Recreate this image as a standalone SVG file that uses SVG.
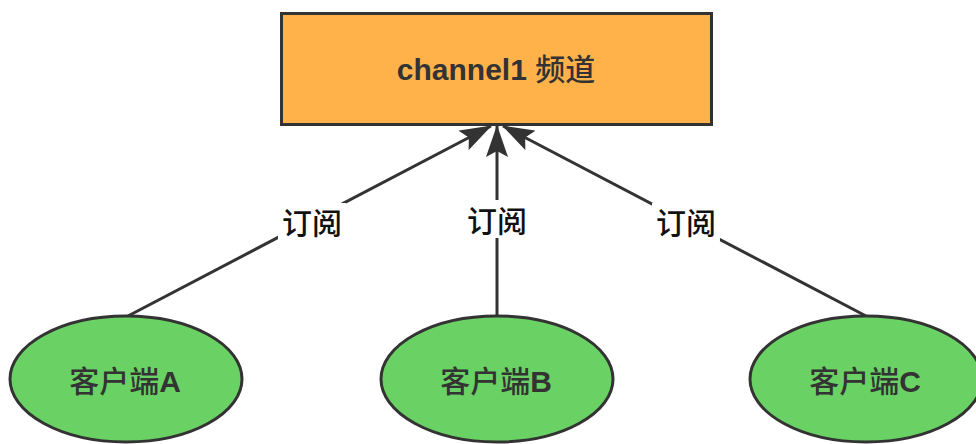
<svg xmlns="http://www.w3.org/2000/svg" width="976" height="444" viewBox="0 0 976 444">
<style>
.node{stroke:#333;stroke-width:3}
.t{font-family:"Liberation Sans","Noto Sans CJK SC",sans-serif;font-size:30px;font-weight:bold;fill:#333;text-anchor:middle;dominant-baseline:central}
.cjk{font-weight:500}
.edge{stroke:#333;stroke-width:3;fill:none}
.lbl{font-family:"Noto Sans CJK SC",sans-serif;font-size:30px;font-weight:500;fill:#111;text-anchor:middle;dominant-baseline:central}
</style>
<defs>
<marker id="arr" markerUnits="userSpaceOnUse" viewBox="0 0 32 22" markerWidth="32" markerHeight="22" refX="31" refY="11" orient="auto">
<path d="M32,11 L0,0 L6,11 L0,22 Z" fill="#333"/>
</marker>
</defs>
<rect width="976" height="444" fill="#fff"/>
<g id="edges">
<g id="e1"><path class="edge" d="M128,316 L491,126" marker-end="url(#arr)"/><rect x="278" y="203" width="68" height="38" fill="#fff"/><text class="lbl" x="312" y="221">订阅</text></g>
<g id="e2"><path class="edge" d="M497,316 L497,126" marker-end="url(#arr)"/><rect x="464" y="200" width="66" height="38" fill="#fff"/><text class="lbl" x="497" y="219">订阅</text></g>
<g id="e3"><path class="edge" d="M866,316 L503,126" marker-end="url(#arr)"/><rect x="652" y="203" width="68" height="38" fill="#fff"/><text class="lbl" x="686" y="221">订阅</text></g>
</g>
<g id="channel">
<rect class="node" x="281.5" y="13.5" width="430" height="111" fill="#FFB24A"/>
<text class="t" x="496" y="69">channel1 <tspan class="cjk">频道</tspan></text>
</g>
<g id="clientA">
<ellipse class="node" cx="126" cy="379" rx="116" ry="63" fill="#6AD264"/>
<text class="t" x="125" y="381"><tspan class="cjk">客户端</tspan>A</text>
</g>
<g id="clientB">
<ellipse class="node" cx="497" cy="379" rx="116" ry="63" fill="#6AD264"/>
<text class="t" x="496" y="381"><tspan class="cjk">客户端</tspan>B</text>
</g>
<g id="clientC">
<ellipse class="node" cx="866" cy="379" rx="116" ry="63" fill="#6AD264"/>
<text class="t" x="865" y="381"><tspan class="cjk">客户端</tspan>C</text>
</g>
</svg>
